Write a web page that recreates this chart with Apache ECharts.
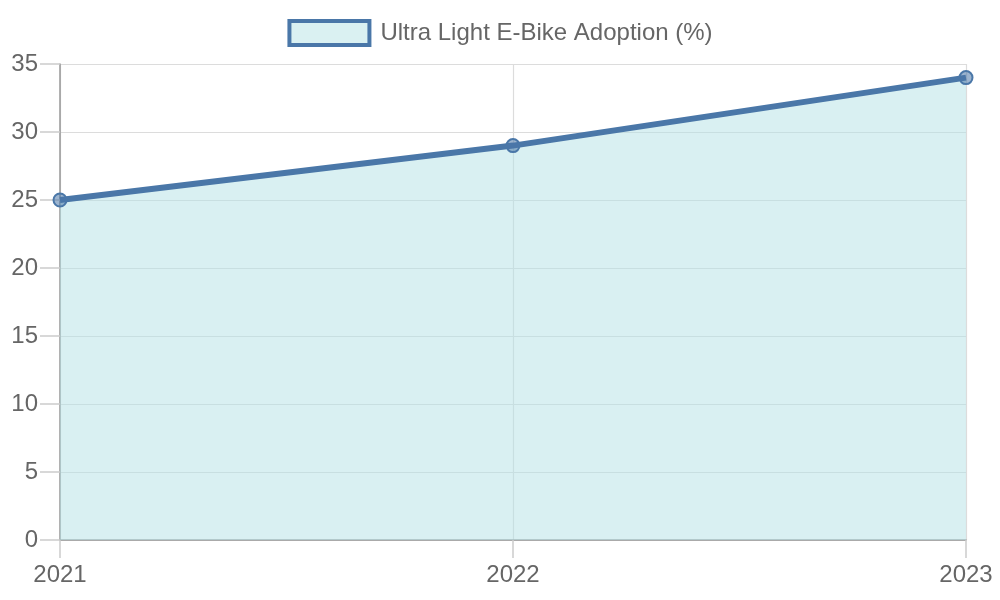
<!DOCTYPE html>
<html>
<head>
<meta charset="utf-8">
<script src="https://cdn.jsdelivr.net/npm/echarts@6/dist/echarts.min.js"></script>
<style>
	html, body { margin: 0; padding: 0; background: #fff; }
	#main { width: 1000px; height: 600px; }
</style>
</head>
<body>
<div id="main"></div>
<script>
	var years = ['2021', '2022', '2023'];
	var adoption = [25, 29, 34];
	var seriesName = 'Ultra Light E-Bike Adoption (%)';

	var myChart = echarts.init(document.getElementById('main'));
	var option = {
		animation : false,
		textStyle : { fontFamily : 'Liberation Sans, Arial, sans-serif' },
		legend : {
			top : 14,
			left : 'center',
			itemWidth : 80,
			itemHeight : 24,
			textStyle : { color : '#666', fontSize : 24, padding : [0, 0, 0, 6] },
			data : [ {
				name : seriesName,
				icon : 'rect',
				itemStyle : {
					color : '#daf1f2',
					borderColor : '#4a77a8',
					borderWidth : 4
				}
			} ]
		},
		grid : { left : 60, right : 34, top : 64, bottom : 60 },
		xAxis : {
			type : 'category',
			boundaryGap : false,
			data : years,
			axisLine : { lineStyle : { color : '#999', width : 1.5 } },
			axisTick : { show : true, length : 18, lineStyle : { color : '#ccc', width : 1.5 } },
			axisLabel : { color : '#666', fontSize : 24, margin : 23 },
			splitLine : { show : true, lineStyle : { color : '#dcdcdc', width : 1.2 } }
		},
		yAxis : {
			type : 'value',
			min : 0,
			max : 35,
			interval : 5,
			axisLine : { show : true, lineStyle : { color : '#999', width : 1.5 } },
			axisTick : { show : true, length : 20, lineStyle : { color : '#ccc', width : 1.5 } },
			axisLabel : { color : '#666', fontSize : 24, margin : 22 },
			splitLine : { show : true, lineStyle : { color : '#dcdcdc', width : 1.2 } }
		},
		series : [ {
			name : seriesName,
			type : 'line',
			data : adoption,
			symbol : 'circle',
			symbolSize : 13,
			lineStyle : { color : '#4a77a8', width : 6 },
			itemStyle : {
				color : 'rgba(74,119,168,0.55)',
				borderColor : '#4a77a8',
				borderWidth : 2
			},
			areaStyle : { color : 'rgba(180,226,230,0.5)', opacity : 1 }
		} ]
	};
	myChart.setOption(option);
</script>
</body>
</html>
